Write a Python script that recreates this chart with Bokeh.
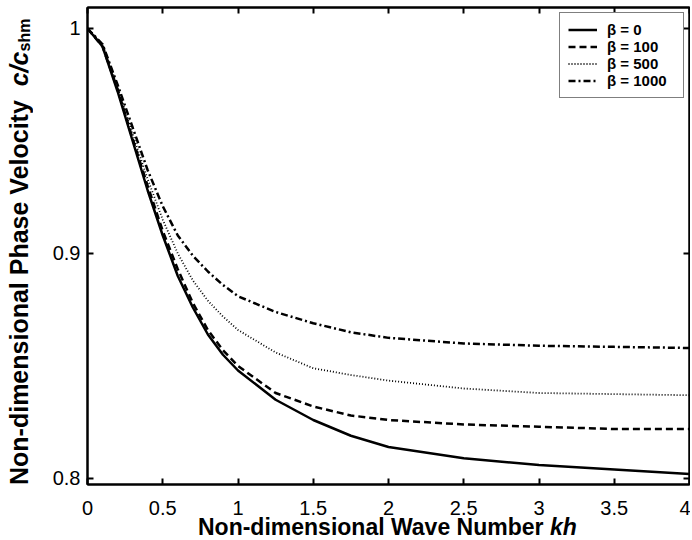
from bokeh.plotting import figure
from bokeh.models import Range1d, LinearAxis, FixedTicker, Legend, LegendItem, Div
from bokeh.layouts import row, column
from bokeh.embed import file_html
from bokeh.resources import INLINE

# ---- data ----
kh = [0.0, 0.1, 0.2, 0.3, 0.4, 0.5, 0.6, 0.7, 0.8, 0.9, 1.0,
      1.25, 1.5, 1.75, 2.0, 2.5, 3.0, 3.5, 4.0]
beta_0 = [1.0, 0.992, 0.972, 0.950, 0.928, 0.908, 0.890, 0.876, 0.864, 0.855, 0.848,
          0.835, 0.826, 0.819, 0.814, 0.809, 0.806, 0.804, 0.802]
beta_100 = [1.0, 0.992, 0.973, 0.951, 0.930, 0.910, 0.893, 0.878, 0.866, 0.857, 0.850,
            0.838, 0.832, 0.828, 0.826, 0.824, 0.823, 0.822, 0.822]
beta_500 = [1.0, 0.993, 0.974, 0.953, 0.933, 0.915, 0.900, 0.888, 0.879, 0.872, 0.866,
            0.856, 0.849, 0.846, 0.8435, 0.840, 0.838, 0.8375, 0.837]
beta_1000 = [1.0, 0.993, 0.975, 0.956, 0.937, 0.921, 0.908, 0.899, 0.892, 0.886, 0.881,
             0.874, 0.869, 0.865, 0.8625, 0.860, 0.859, 0.8585, 0.858]
series = [beta_0, beta_100, beta_500, beta_1000]
series_labels = ["β = 0", "β = 100", "β = 500", "β = 1000"]

x_ticks = [0, 0.5, 1, 1.5, 2, 2.5, 3, 3.5, 4]
x_tick_labels = ["0", "0.5", "1", "1.5", "2", "2.5", "3", "3.5", "4"]
y_ticks = [0.8, 0.9, 1.0]
y_tick_labels = ["0.8", "0.9", "1"]

x_title = "Non-dimensional Wave Number"
x_title_italic = "kh"
y_title = "Non-dimensional Phase Velocity"
y_title_italic = "c/c"
y_title_sub = "shm"

# ---- layout ----
YDIV_W = 40
W, H = 650, 523
BL, BR, BT, BB = 47, 1, 7, 39
X0, X1 = 0.0, 4.0
Y0, Y1 = 0.79733, 1.00933
FONT = "Liberation Sans"

p = figure(width=W, height=H, output_backend="svg", toolbar_location=None,
           x_range=Range1d(X0, X1), y_range=Range1d(Y0, Y1),
           min_border_left=BL, min_border_right=BR,
           min_border_top=BT, min_border_bottom=BB, margin=0)
p.background_fill_color = "white"
p.border_fill_color = "white"
p.outline_line_color = "black"
p.outline_line_width = 2
p.xgrid.visible = False
p.ygrid.visible = False

p.add_layout(LinearAxis(), "above")
p.add_layout(LinearAxis(), "right")


def style_axis(ax, ticks, labels, show):
    ax.ticker = FixedTicker(ticks=ticks)
    ax.axis_line_color = "black"
    ax.axis_line_width = 2
    ax.major_tick_in = 6
    ax.major_tick_out = 0
    ax.major_tick_line_width = 2
    ax.major_tick_line_color = "black"
    ax.minor_tick_line_color = None
    ax.major_label_text_font = FONT
    ax.major_label_text_color = "black"
    if show:
        ax.major_label_text_font_size = "20px"
        ax.major_label_standoff = 10
        ax.major_label_overrides = dict(zip(ticks, labels))
    else:
        ax.major_label_text_font_size = "1px"
        ax.major_label_standoff = 0
        ax.major_label_overrides = {t: "" for t in ticks}


style_axis(p.below[0], x_ticks, x_tick_labels, True)
style_axis(p.left[0], y_ticks, y_tick_labels, True)
style_axis(p.above[0], x_ticks, x_tick_labels, False)
style_axis(p.right[0], y_ticks, y_tick_labels, False)
p.left[0].major_label_standoff = 7
p.below[0].major_label_standoff = 16

line_styles = [
    dict(line_width=2.5),
    dict(line_width=2.5, line_dash="7 4"),
    dict(line_width=1.8, line_dash="1 2"),
    dict(line_width=2.5, line_dash="7 3 2 3"),
]

items = []
for ys, lab, st in zip(series, series_labels, line_styles):
    r = p.line(kh, ys, line_color="black", **st)
    items.append(LegendItem(label=lab, renderers=[r]))

legend = Legend(items=items, location="top_right", margin=5, padding=8, spacing=0,
                glyph_width=29, glyph_height=17, label_height=17, label_width=68,
                label_standoff=10,
                label_text_font=FONT, label_text_font_size="15px",
                label_text_font_style="bold", label_text_color="black",
                border_line_color="black", border_line_width=1,
                background_fill_color="white", background_fill_alpha=1.0)
p.add_layout(legend)

# ---- axis titles as HTML text (mixed bold / italic / subscript) ----
ydiv_html = (
    '<div style="margin-left:5px;width:35px;height:485px;writing-mode:vertical-rl;'
    'transform:rotate(180deg);text-align:start;white-space:nowrap;'
    "font-family:'Liberation Sans';font-weight:bold;font-size:25px;line-height:29px;color:black\">"
    f'{y_title}&nbsp;&nbsp;<i>{y_title_italic}</i>'
    f'<sub style="font-size:16px;line-height:0">{y_title_sub}</sub></div>'
)
xdiv_html = (
    '<div style="position:relative;top:-7px;padding-left:158px;white-space:nowrap;'
    "font-family:'Liberation Sans';font-weight:bold;font-size:23px;line-height:23px;color:black\">"
    f'{x_title} <i>{x_title_italic}</i></div>'
)
ydiv = Div(text=ydiv_html, width=YDIV_W, height=540, margin=0)
xdiv = Div(text=xdiv_html, width=W, height=540 - H, margin=0)

layout = row(ydiv, column(p, xdiv, spacing=0, margin=0), spacing=0, margin=0)

open("out.html", "w").write(file_html(layout, INLINE))
